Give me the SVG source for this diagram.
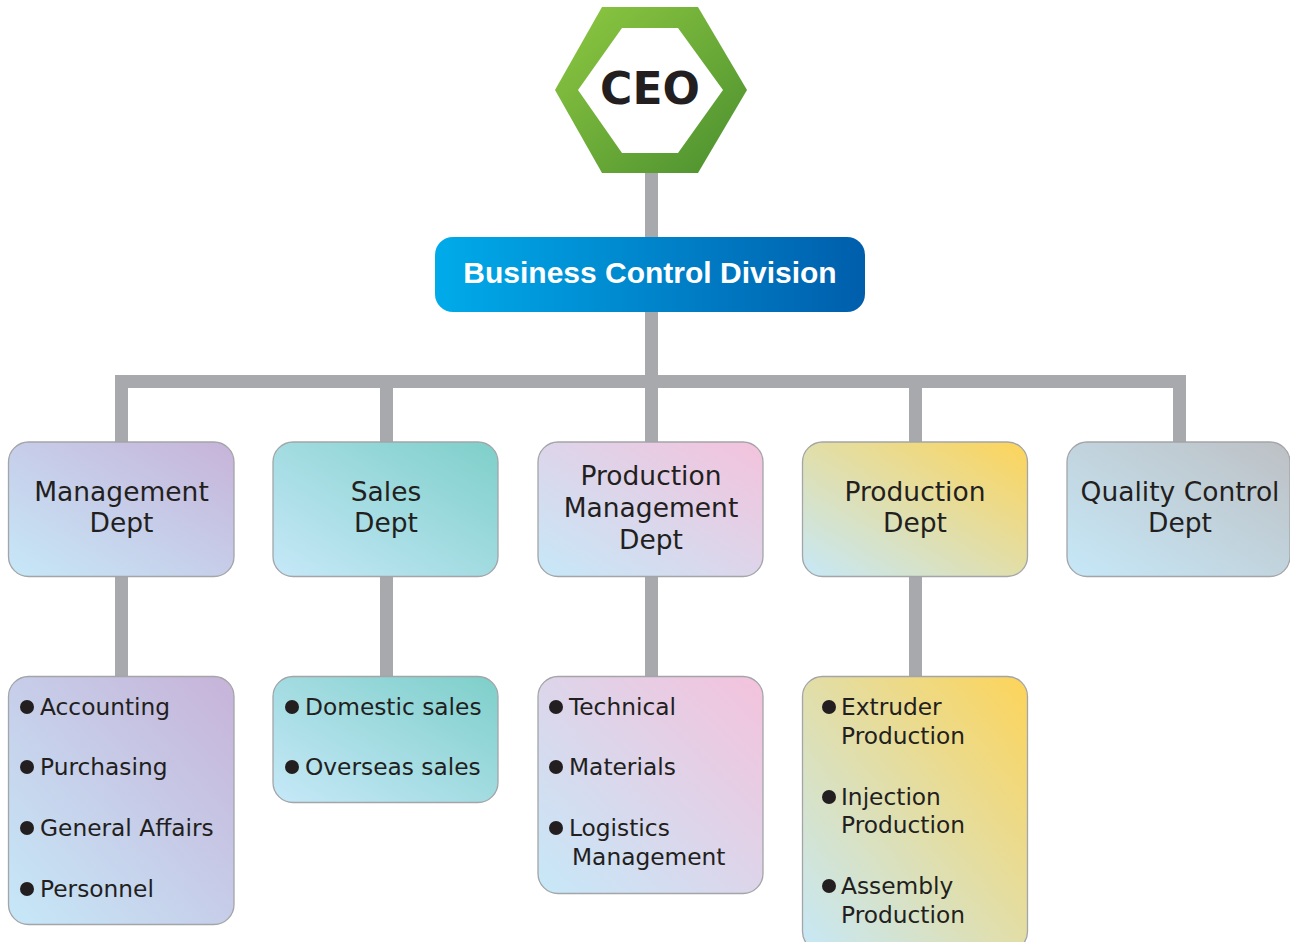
<svg xmlns="http://www.w3.org/2000/svg" width="1290" height="942" viewBox="0 0 1290 942">
<defs>
<linearGradient id="gCeo" x1="0" y1="0" x2="1" y2="1"><stop offset="0" stop-color="#8fc941"/><stop offset="1" stop-color="#4a8f2f"/></linearGradient>
<linearGradient id="gBcd" x1="0" y1="0.5" x2="1" y2="0.5"><stop offset="0" stop-color="#00abea"/><stop offset="1" stop-color="#005eac"/></linearGradient>
<linearGradient id="gMg" x1="0" y1="1" x2="1" y2="0"><stop offset="0" stop-color="#c6e8f8"/><stop offset="1" stop-color="#c7b3d9"/></linearGradient>
<linearGradient id="gSa" x1="0" y1="1" x2="1" y2="0"><stop offset="0" stop-color="#c6e8f8"/><stop offset="1" stop-color="#7ecfca"/></linearGradient>
<linearGradient id="gPm" x1="0" y1="1" x2="1" y2="0"><stop offset="0" stop-color="#c6e8f8"/><stop offset="1" stop-color="#f4c2dc"/></linearGradient>
<linearGradient id="gPr" x1="0" y1="1" x2="1" y2="0"><stop offset="0" stop-color="#c6e8f8"/><stop offset="1" stop-color="#fdd459"/></linearGradient>
<linearGradient id="gQc" x1="0" y1="1" x2="1" y2="0"><stop offset="0" stop-color="#c6e8f8"/><stop offset="1" stop-color="#bdc0c4"/></linearGradient>
</defs>
<style>
.box{stroke:#a3a5a8;stroke-width:1.3}
.lbl{font-family:"DejaVu Sans",sans-serif;font-size:26.5px;fill:#231f20;text-anchor:middle}
.it{font-family:"DejaVu Sans",sans-serif;font-size:23.3px;fill:#231f20}
.dot{fill:#231f20}
.con{fill:#a7a9ac}
</style>
<g id="connectors">
<rect class="con" x="645" y="170" width="13" height="70"/>
<rect class="con" x="645" y="310" width="13" height="72"/>
<rect class="con" x="115" y="375" width="1071" height="13"/>
<rect class="con" x="115" y="375" width="13" height="68"/>
<rect class="con" x="380" y="375" width="13" height="68"/>
<rect class="con" x="645" y="375" width="13" height="68"/>
<rect class="con" x="909" y="375" width="13" height="68"/>
<rect class="con" x="1173" y="375" width="13" height="68"/>
<rect class="con" x="115" y="575" width="13" height="103"/>
<rect class="con" x="380" y="575" width="13" height="103"/>
<rect class="con" x="645" y="575" width="13" height="103"/>
<rect class="con" x="909" y="575" width="13" height="103"/>
</g>
<g id="ceo">
<polygon points="602,7 698,7 747,90 698,173 602,173 555,90" fill="url(#gCeo)"/>
<polygon points="622,28 678,28 723,90 678,153 622,153 578,90" fill="#ffffff"/>
<text x="650" y="104" font-family="'DejaVu Sans',sans-serif" font-weight="bold" font-size="44" fill="#231f20" text-anchor="middle">CEO</text>
</g>
<g id="bcd">
<rect x="435" y="237" width="430" height="75" rx="18" fill="url(#gBcd)"/>
<text x="650" y="283" font-family="'Liberation Sans',Arial,sans-serif" font-weight="bold" font-size="30" fill="#ffffff" text-anchor="middle">Business Control Division</text>
</g>
<g id="mgmt-dept">
<rect class="box" x="8.5" y="442" width="225.5" height="134.5" rx="20" fill="url(#gMg)"/>
<text class="lbl" x="121.5" y="501">Management</text>
<text class="lbl" x="121.5" y="532">Dept</text>
</g>
<g id="sales-dept">
<rect class="box" x="273" y="442" width="225" height="134.5" rx="20" fill="url(#gSa)"/>
<text class="lbl" x="386" y="501">Sales</text>
<text class="lbl" x="386" y="532">Dept</text>
</g>
<g id="pm-dept">
<rect class="box" x="538" y="442" width="225" height="134.5" rx="20" fill="url(#gPm)"/>
<text class="lbl" x="651" y="485">Production</text>
<text class="lbl" x="651" y="517">Management</text>
<text class="lbl" x="651" y="549">Dept</text>
</g>
<g id="prod-dept">
<rect class="box" x="802.5" y="442" width="225" height="134.5" rx="20" fill="url(#gPr)"/>
<text class="lbl" x="915" y="501">Production</text>
<text class="lbl" x="915" y="532">Dept</text>
</g>
<g id="qc-dept">
<rect class="box" x="1067" y="442" width="223" height="134.5" rx="20" fill="url(#gQc)"/>
<text class="lbl" x="1180" y="501">Quality Control</text>
<text class="lbl" x="1180" y="532">Dept</text>
</g>
<g id="mgmt-list">
<rect class="box" x="8.5" y="676.5" width="225.5" height="248" rx="20" fill="url(#gMg)"/>
<circle class="dot" cx="27" cy="707" r="7"/><text class="it" x="40" y="715">Accounting</text>
<circle class="dot" cx="27" cy="767" r="7"/><text class="it" x="40" y="775">Purchasing</text>
<circle class="dot" cx="27" cy="828" r="7"/><text class="it" x="40" y="836">General Affairs</text>
<circle class="dot" cx="27" cy="889" r="7"/><text class="it" x="40" y="897">Personnel</text>
</g>
<g id="sales-list">
<rect class="box" x="273" y="676.5" width="225" height="126" rx="20" fill="url(#gSa)"/>
<circle class="dot" cx="292" cy="707" r="7"/><text class="it" x="305" y="715">Domestic sales</text>
<circle class="dot" cx="292" cy="767" r="7"/><text class="it" x="305" y="775">Overseas sales</text>
</g>
<g id="pm-list">
<rect class="box" x="538" y="676.5" width="225" height="217" rx="20" fill="url(#gPm)"/>
<circle class="dot" cx="556" cy="707" r="7"/><text class="it" x="569" y="715">Technical</text>
<circle class="dot" cx="556" cy="767" r="7"/><text class="it" x="569" y="775">Materials</text>
<circle class="dot" cx="556" cy="828" r="7"/><text class="it" x="569" y="836">Logistics</text>
<text class="it" x="572" y="865">Management</text>
</g>
<g id="prod-list">
<rect class="box" x="802.5" y="676.5" width="225" height="275" rx="20" fill="url(#gPr)"/>
<circle class="dot" cx="829" cy="707" r="7"/><text class="it" x="841" y="715">Extruder</text>
<text class="it" x="841" y="744">Production</text>
<circle class="dot" cx="829" cy="797" r="7"/><text class="it" x="841" y="805">Injection</text>
<text class="it" x="841" y="833">Production</text>
<circle class="dot" cx="829" cy="886" r="7"/><text class="it" x="841" y="894">Assembly</text>
<text class="it" x="841" y="923">Production</text>
</g>
</svg>
